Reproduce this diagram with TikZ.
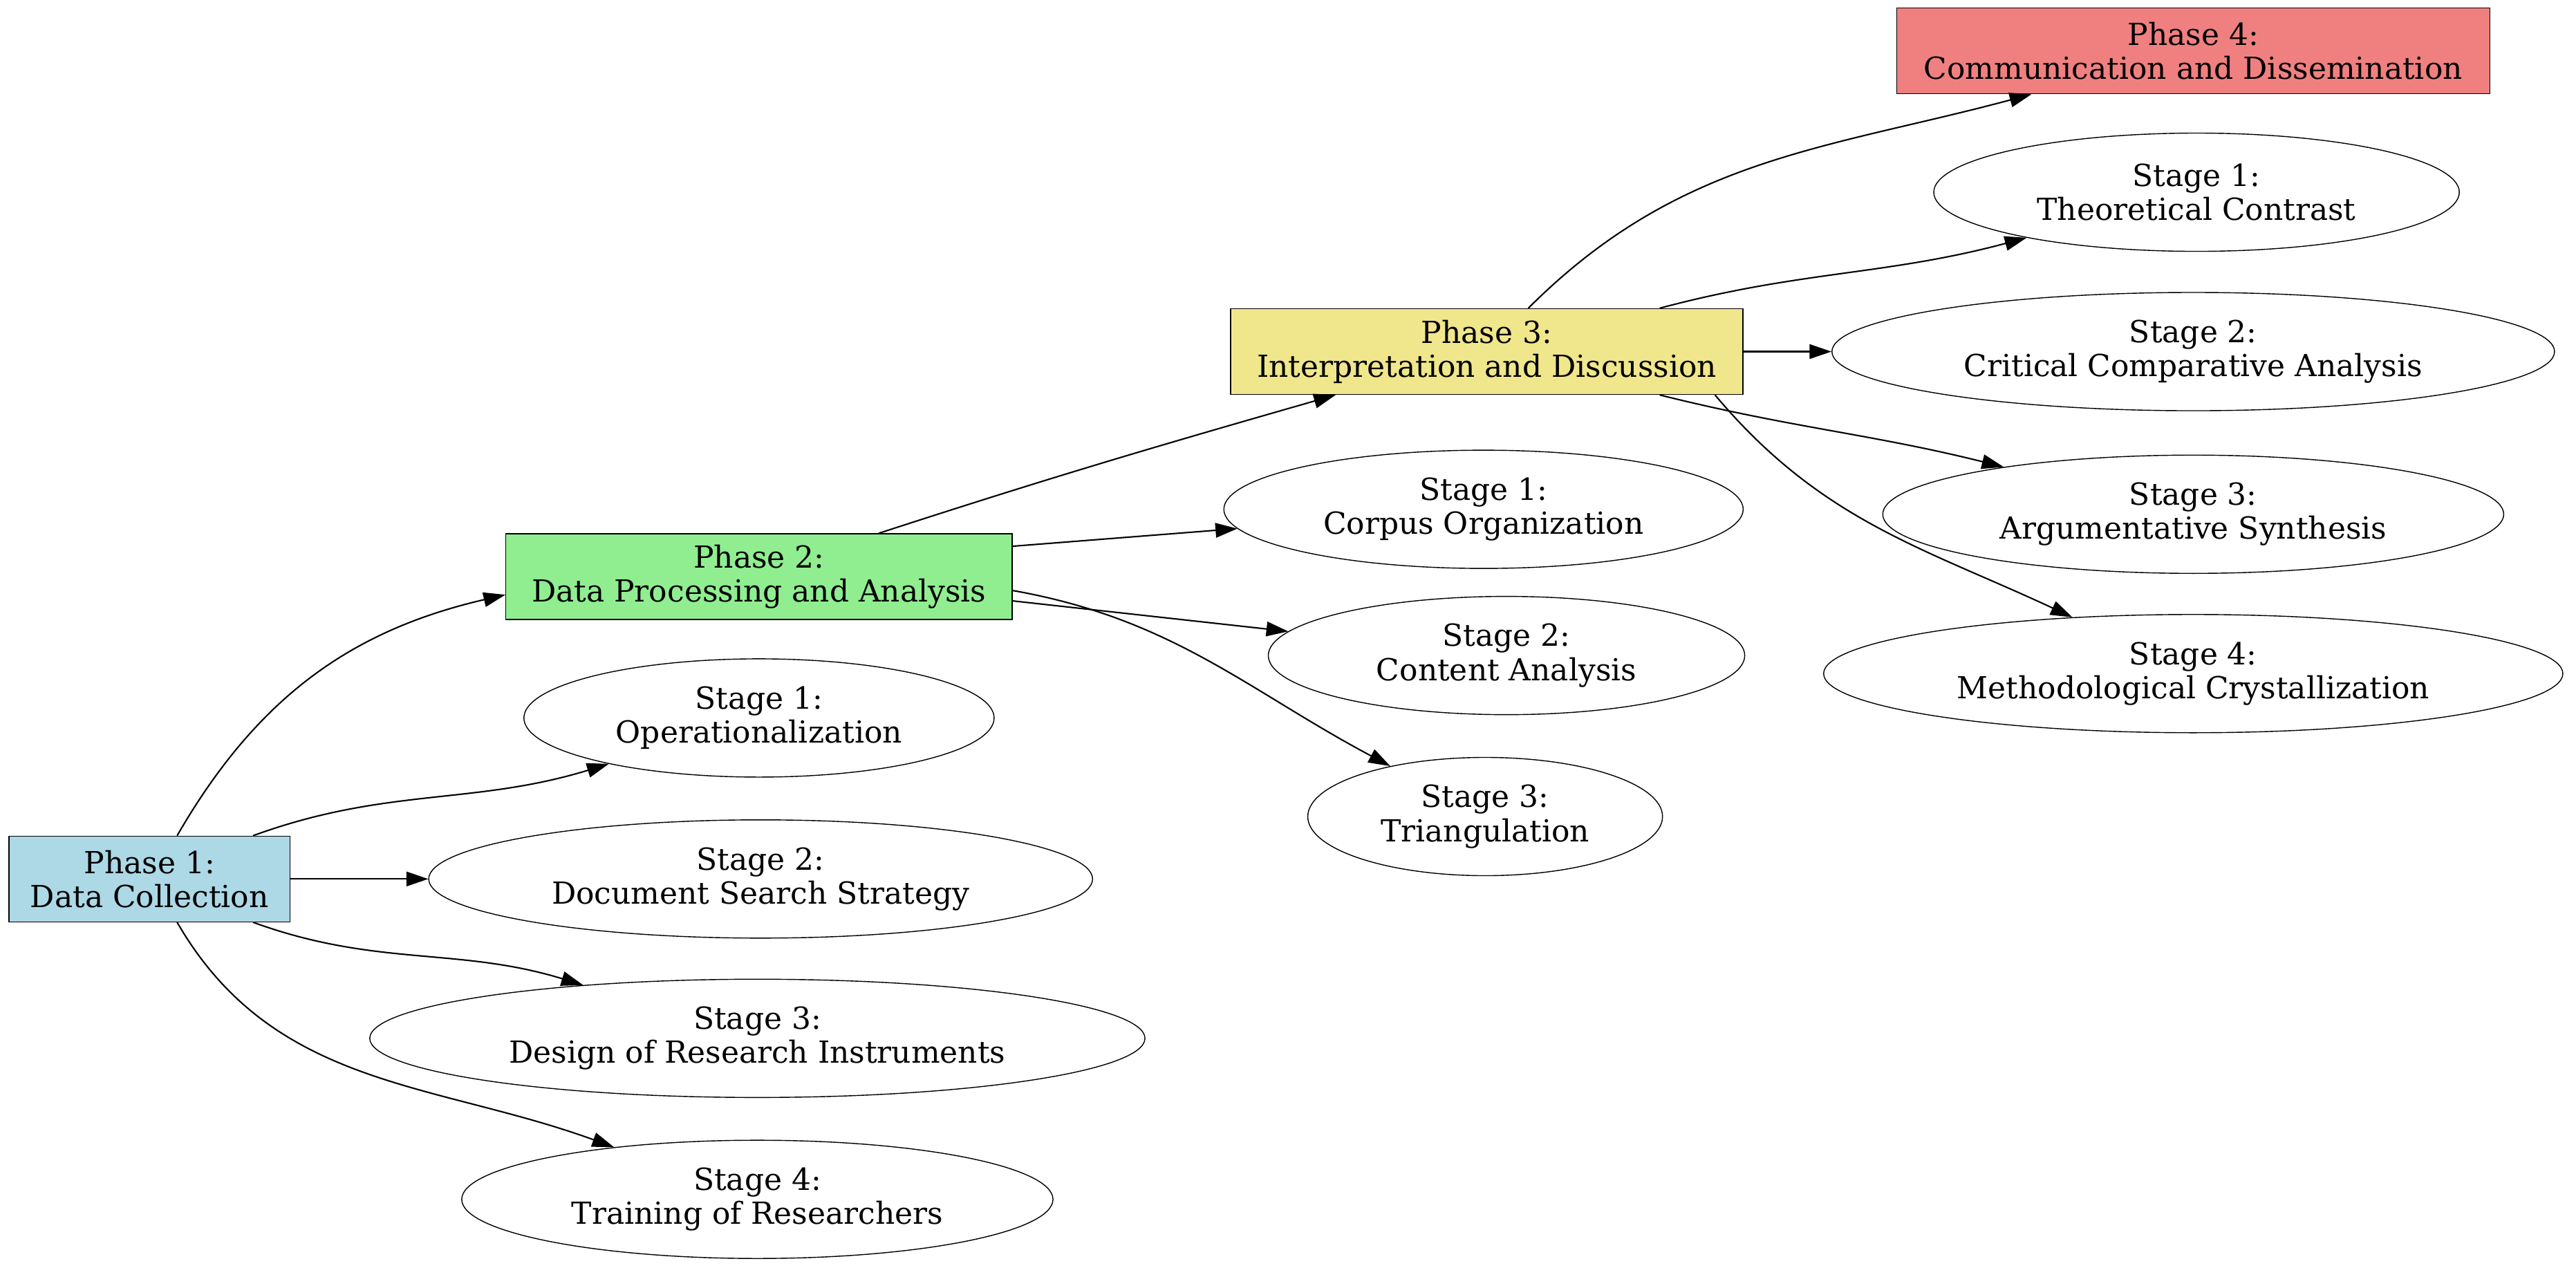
\documentclass[tikz,border=0pt]{standalone}
\usepackage{fontspec}
\setmainfont{DejaVu Serif}
\usetikzlibrary{arrows.meta,shapes.geometric}
\begin{document}
\begin{tikzpicture}[x=0.02376cm,y=-0.02376cm,
  font=\fontsize{12.5}{14}\selectfont,
  box/.style={draw,rectangle,minimum height=1.24cm,inner sep=0pt,align=center},
  ell/.style={draw,ellipse,minimum height=1.71cm,inner sep=0pt,align=center},
  e/.style={-{Triangle[length=9pt,width=6pt]},line width=0.6pt}]
\useasboundingbox (0,0) rectangle (1568,777);
\node[box,fill=cyan!25!blue!10!white,fill={rgb,255:red,173;green,216;blue,230},minimum width=4.06cm] (P1) at (91,535) {Phase 1:\\Data Collection};
\node[box,fill={rgb,255:red,144;green,238;blue,144},minimum width=7.32cm] (P2) at (462,351) {Phase 2:\\Data Processing and Analysis};
\node[box,fill={rgb,255:red,240;green,230;blue,140},minimum width=7.41cm] (P3) at (905,214) {Phase 3:\\Interpretation and Discussion};
\node[box,fill={rgb,255:red,240;green,128;blue,128},minimum width=8.58cm] (P4) at (1335,31) {Phase 4:\\Communication and Dissemination};
\node[ell,minimum width=6.80cm] (A1) at (462,437) {Stage 1:\\Operationalization};
\node[ell,minimum width=9.60cm] (A2) at (463,535) {Stage 2:\\Document Search Strategy};
\node[ell,minimum width=11.21cm] (A3) at (461,632) {Stage 3:\\Design of Research Instruments};
\node[ell,minimum width=8.55cm] (A4) at (461,730) {Stage 4:\\Training of Researchers};
\node[ell,minimum width=7.51cm] (B1) at (903,310) {Stage 1:\\Corpus Organization};
\node[ell,minimum width=6.89cm] (B2) at (917,399) {Stage 2:\\Content Analysis};
\node[ell,minimum width=5.13cm] (B3) at (904,497) {Stage 3:\\Triangulation};
\node[ell,minimum width=7.60cm] (C1) at (1337,117) {Stage 1:\\Theoretical Contrast};
\node[ell,minimum width=10.45cm] (C2) at (1335,214) {Stage 2:\\Critical Comparative Analysis};
\node[ell,minimum width=8.98cm] (C3) at (1335,313) {Stage 3:\\Argumentative Synthesis};
\node[ell,minimum width=10.69cm] (C4) at (1335,410) {Stage 4:\\Methodological Crystallization};
\draw[e] ([xshift=0.4cm]P1.north) to[out=60,in=193] (P2.west|-362,362);
\draw[e] ([xshift=1.5cm]P1.north) to[out=20,in=197] (A1);
\draw[e] (P1.east) -- (A2);
\draw[e] ([xshift=1.5cm]P1.south) to[out=-20,in=163] (A3);
\draw[e] ([xshift=0.4cm]P1.south) to[out=-60,in=160] (A4);
\draw[e] ([xshift=1.73cm]P2.north) to[out=18,in=196] (P3);
\draw[e] ([yshift=0.44cm]P2.east) -- (B1);
\draw[e] ([yshift=-0.35cm]P2.east) -- (B2);
\draw[e] ([yshift=-0.2cm]P2.east) to[out=-10,in=152] (B3);
\draw[e] ([xshift=0.6cm]P3.north) to[out=45,in=195] (P4);
\draw[e] ([xshift=2.5cm]P3.north) to[out=15,in=195] (C1);
\draw[e] (P3.east) -- (C2);
\draw[e] ([xshift=2.5cm]P3.south) to[out=-14,in=166] (C3);
\draw[e] ([xshift=3.3cm]P3.south) to[out=-50,in=155] (C4);
\end{tikzpicture}
\end{document}
